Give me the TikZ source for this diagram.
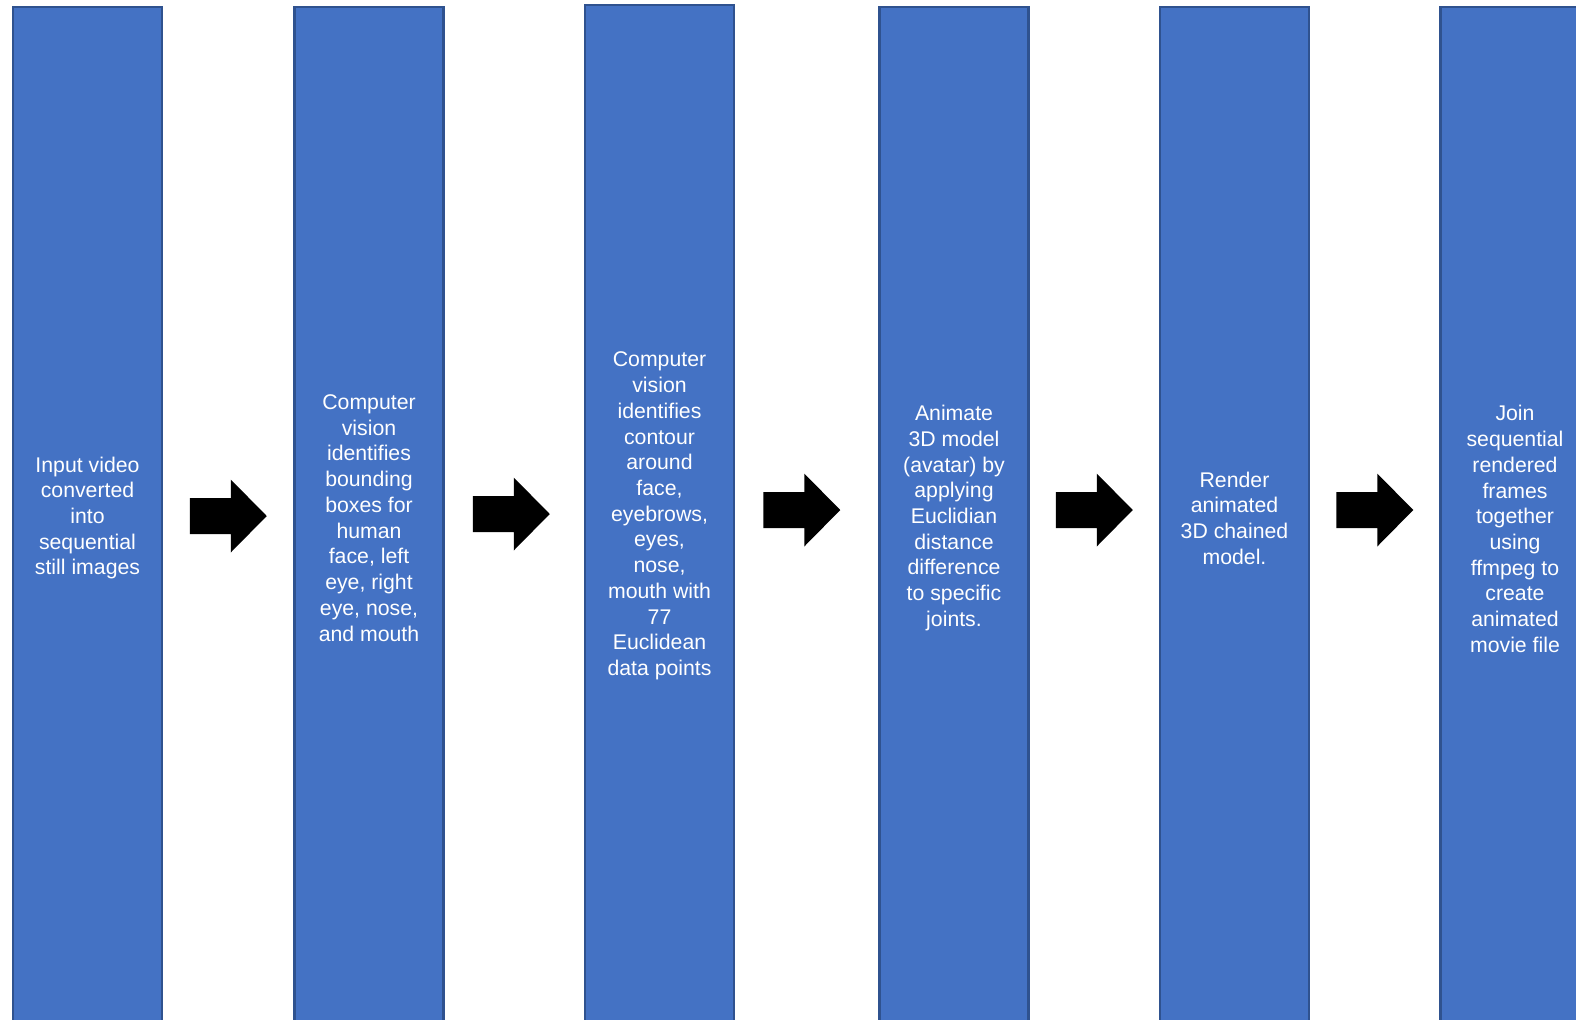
\documentclass[tikz,border=0pt]{standalone}
\usepackage{fontspec}
\setmainfont{Liberation Sans}
\usetikzlibrary{calc}
\definecolor{boxfill}{HTML}{4472C4}
\definecolor{boxline}{HTML}{2F528F}
\tikzset{
  stage/.style={draw=boxline,line width=1.2pt,fill=boxfill,text=white,align=center,
    inner sep=0pt,minimum width=2.98cm,minimum height=20.44cm,
    font=\fontsize{12.1pt}{14.65pt}\selectfont},
  blockarrow/.pic={\fill[black] (-38.5,-18) -- (2.5,-18) -- (2.5,-36.5) -- (38.5,0)
    -- (2.5,36.5) -- (2.5,18) -- (-38.5,18) -- cycle;}
}
\begin{document}
\begin{tikzpicture}[x=0.02cm,y=-0.02cm]
\useasboundingbox (0,0) rectangle (1576,1019);
\clip (0,0) rectangle (1576,1019);

\node[stage] (input) at (87.5,518) {Input video\\ converted\\ into\\ sequential\\ still images};
\node[stage] (bbox) at (369,518) {Computer\\ vision\\ identifies\\ bounding\\ boxes for\\ human\\ face, left\\ eye, right\\ eye, nose,\\ and mouth};
\node[stage] (contour) at (659.5,516) {Computer\\ vision\\ identifies\\ contour\\ around\\ face,\\ eyebrows,\\ eyes,\\ nose,\\ mouth with\\ 77\\ Euclidean\\ data points};
\node[stage] (animate) at (954,518) {Animate\\ 3D model\\ (avatar) by\\ applying\\ Euclidian\\ distance\\ difference\\ to specific\\ joints.};
\node[stage] (render) at (1234.5,518) {Render\\ animated\\ 3D chained\\ model.};
\node[stage,minimum height=20.88cm] (join) at (1515,529) {Join\\ sequential\\ rendered\\ frames\\ together\\ using\\ ffmpeg to\\ create\\ animated\\ movie file};

\pic at ($(input.east)!0.5!(bbox.west)+(0,-2)$) {blockarrow};
\pic at ($(bbox.east)!0.5!(contour.west)+(-3,-3)$) {blockarrow};
\pic at ($(contour.east)!0.5!(animate.west)+(-5,-7)$) {blockarrow};
\pic at ($(animate.east)!0.5!(render.west)+(0,-8)$) {blockarrow};
\pic at ($(render.east)!0.5!(join.west)+(0,-13.5)$) {blockarrow};
\end{tikzpicture}
\end{document}
